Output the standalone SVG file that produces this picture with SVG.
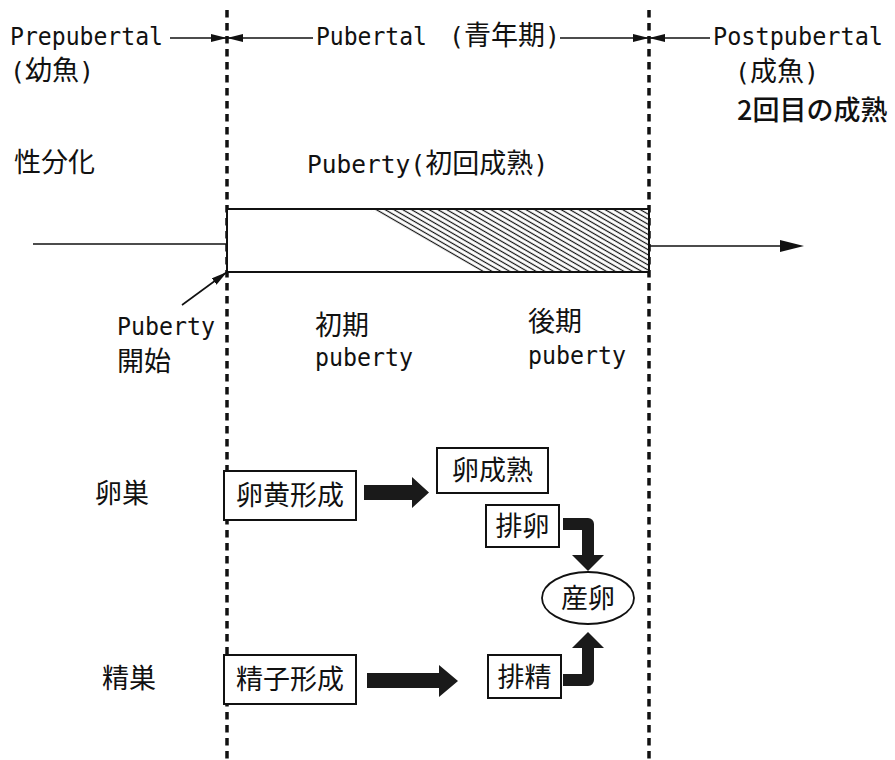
<svg xmlns="http://www.w3.org/2000/svg" width="895" height="760" viewBox="0 0 895 760">
<style>
  .lat { font-family: "DejaVu Sans Mono", "Noto Sans CJK JP", monospace; font-size: 24.5px; fill: #111; }
  .par { font-family: "DejaVu Sans Mono", monospace; font-size: 25px; fill: #111; }
  .cjk { font-family: "Noto Sans CJK JP", sans-serif; font-size: 27px; fill: #111; }
  .med { font-weight: 500; }
  .mid { text-anchor: middle; }
  .thin { stroke: #111; stroke-width: 1.6; fill: none; }
  .dash { stroke: #111; stroke-width: 3.5; stroke-dasharray: 7.5 5.5; fill: none; }
  .box { fill: #fff; stroke: #111; stroke-width: 2; }
  .thick { fill: #1a1a1a; }
  .elbow { fill: none; stroke: #1a1a1a; stroke-width: 12; stroke-linejoin: round; }
</style>
<defs>
  <marker id="ah" markerUnits="userSpaceOnUse" markerWidth="16" markerHeight="8" refX="16" refY="4" orient="auto">
    <path d="M0,0 L16,4 L0,8 z" fill="#111"/>
  </marker>
  <pattern id="hatch" patternUnits="userSpaceOnUse" width="8" height="4.4" patternTransform="rotate(30)">
    <line x1="0" y1="2.2" x2="8" y2="2.2" stroke="#111" stroke-width="1.2"/>
  </pattern>
</defs>
<rect width="895" height="760" fill="#fff"/>

<g id="dividers">
  <line class="dash" x1="227" y1="10" x2="227" y2="760"/>
  <line class="dash" x1="649" y1="10" x2="649" y2="760"/>
</g>

<g id="stage-labels">
  <text class="lat" x="10" y="45" textLength="153" lengthAdjust="spacingAndGlyphs">Prepubertal</text>
  <text class="par" x="10" y="80">(<tspan class="cjk">幼魚</tspan>)</text>
  <text class="lat" x="316" y="45" textLength="111" lengthAdjust="spacingAndGlyphs">Pubertal</text>
  <text class="par" x="449" y="45">(<tspan class="cjk">青年期</tspan>)</text>
  <text class="lat" x="713" y="45" textLength="170" lengthAdjust="spacingAndGlyphs">Postpubertal</text>
  <text class="par" x="735" y="81">(<tspan class="cjk">成魚</tspan>)</text>
  <text class="cjk med" x="737" y="120" font-size="26">2回目の成熟</text>
</g>

<g id="sex-diff">
  <text class="cjk" x="14" y="172">性分化</text>
</g>
<g id="puberty-title">
  <text class="lat" x="307" y="173">Puberty<tspan class="par">(</tspan><tspan class="cjk">初回成熟</tspan><tspan class="par">)</tspan></text>
</g>

<g id="puberty-bar">
  <rect x="227" y="209" width="422" height="63" fill="#fff" stroke="#111" stroke-width="2"/>
  <polygon points="371,210 648,210 648,271 480,271" fill="url(#hatch)"/>
  <rect x="227" y="209" width="422" height="63" fill="none" stroke="#111" stroke-width="2"/>
</g>

<g id="puberty-start">
  <text class="lat" x="117" y="335" textLength="98" lengthAdjust="spacingAndGlyphs">Puberty</text>
  <text class="cjk" x="117" y="371">開始</text>
</g>
<g id="early-puberty">
  <text class="cjk" x="315" y="335">初期</text>
  <text class="lat" x="315" y="366" textLength="98" lengthAdjust="spacingAndGlyphs">puberty</text>
</g>
<g id="late-puberty">
  <text class="cjk" x="528" y="331">後期</text>
  <text class="lat" x="528" y="364" textLength="98" lengthAdjust="spacingAndGlyphs">puberty</text>
</g>

<g id="ovary-label"><text class="cjk" x="95" y="503">卵巣</text></g>
<g id="testis-label"><text class="cjk" x="102" y="688">精巣</text></g>

<g id="vitellogenesis">
  <rect class="box" x="224" y="471" width="132" height="49"/>
  <text class="cjk mid" x="290" y="505">卵黄形成</text>
</g>
<g id="oocyte-maturation">
  <rect class="box" x="437" y="448" width="111" height="45"/>
  <text class="cjk mid" x="492.5" y="480">卵成熟</text>
</g>
<g id="ovulation">
  <rect class="box" x="486" y="505" width="73" height="42"/>
  <text class="cjk mid" x="522.5" y="536">排卵</text>
</g>
<g id="spermatogenesis">
  <rect class="box" x="224" y="655" width="132" height="49"/>
  <text class="cjk mid" x="290" y="689">精子形成</text>
</g>
<g id="spermiation">
  <rect class="box" x="488" y="655" width="73" height="43"/>
  <text class="cjk mid" x="524.5" y="687">排精</text>
</g>
<g id="spawning">
  <ellipse cx="588" cy="598" rx="46" ry="26" fill="#fff" stroke="#111" stroke-width="1.8"/>
  <text class="cjk mid" x="588" y="608">産卵</text>
</g>

<g id="connectors">
  <line class="thin" x1="170" y1="38" x2="227" y2="38" marker-end="url(#ah)"/>
  <line class="thin" x1="313" y1="38" x2="227" y2="38" marker-end="url(#ah)"/>
  <line class="thin" x1="560" y1="38" x2="649" y2="38" marker-end="url(#ah)"/>
  <line class="thin" x1="710" y1="38" x2="649" y2="38" marker-end="url(#ah)"/>
  <line class="thin" x1="33" y1="244" x2="227" y2="244" stroke-width="2"/>
  <line class="thin" x1="649" y1="246" x2="782" y2="246" stroke-width="2"/>
  <polygon points="780,240 804,246 780,252" fill="#111"/>
  <line class="thin" x1="182" y1="305" x2="227" y2="272" marker-end="url(#ah)"/>
  <polygon class="thick" points="364,485 412,485 412,477 429,492.5 412,508 412,500 364,500"/>
  <polygon class="thick" points="367,673 439,673 439,665 458,681 439,697 439,688 367,688"/>
  <path class="elbow" d="M563,524 H588 V557"/>
  <polygon class="thick" points="572,555 604,555 588,571"/>
  <path class="elbow" d="M563,680 H588 V646"/>
  <polygon class="thick" points="572,648 604,648 588,632"/>
</g>
</svg>
